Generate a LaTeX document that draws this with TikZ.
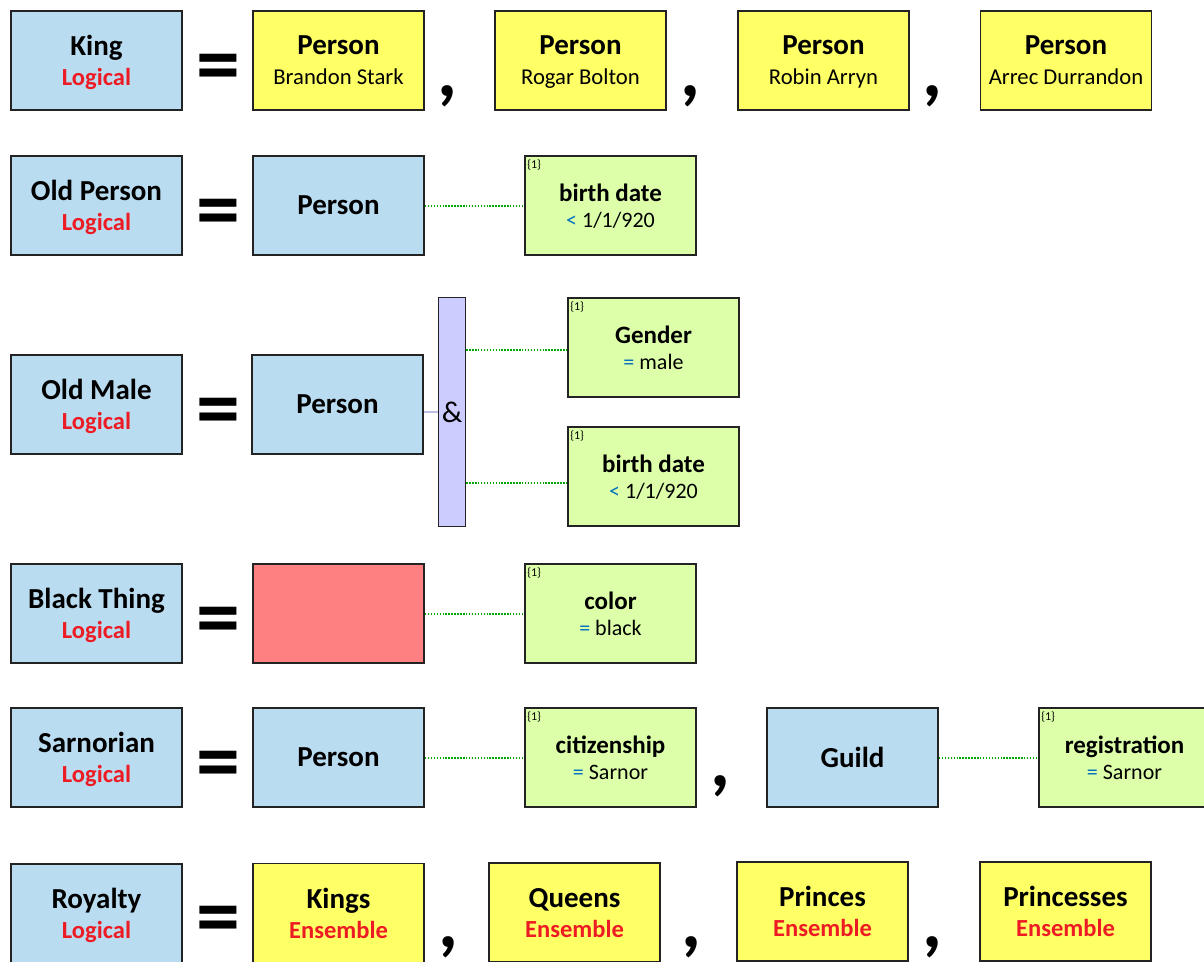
\documentclass[tikz,border=0pt]{standalone}
\usepackage{fontspec}
\setmainfont{Carlito}

\definecolor{azul}{RGB}{186,220,240}
\definecolor{amarillo}{RGB}{255,255,102}
\definecolor{verde}{RGB}{221,255,170}
\definecolor{rosa}{RGB}{255,128,128}
\definecolor{lila}{RGB}{204,204,255}
\definecolor{lilagris}{RGB}{190,190,225}
\definecolor{rojo}{RGB}{237,28,36}
\definecolor{opazul}{RGB}{0,112,192}
\definecolor{punteado}{RGB}{0,165,0}
\definecolor{borde}{RGB}{35,35,35}

\newcommand{\subtxt}[1]{{\fontsize{17}{22.5}\selectfont\mdseries #1}}
\newcommand{\tipotxt}[1]{{\fontsize{18.4}{22.5}\selectfont\color{rojo}#1}}
\newcommand{\valtxt}[2]{{\fontsize{16.5}{19.5}\selectfont\mdseries\textcolor{opazul}{#1} #2}}

\begin{document}
\begin{tikzpicture}[x=0.75pt, y=-0.75pt,
    caja/.style={draw=borde, line width=1.1pt, minimum width=128.5pt, minimum height=74.5pt,
        inner sep=0pt, align=center, text depth=-5pt,
        font=\fontsize{21.75}{22.5}\selectfont\bfseries},
    logico/.style={caja, fill=azul},
    persona/.style={caja, fill=amarillo},
    atrib/.style={caja, fill=verde, text depth=-3pt, font=\fontsize{18.75}{19.5}\selectfont\bfseries},
    num/.style={anchor=north west, inner sep=0pt, font=\fontsize{9}{9}\selectfont},
    igual/.style={inner sep=0pt, font=\fontsize{66}{66}\selectfont\bfseries},
    coma/.style={inner sep=0pt, font=\fontsize{58}{58}\selectfont\bfseries},
    conj/.style={draw=borde, line width=1.1pt, fill=lila, minimum width=20.25pt,
        minimum height=171.75pt, inner sep=0pt, font=\fontsize{22.5}{22.5}\selectfont},
    enlace/.style={draw=punteado, line width=1.3pt, dash pattern=on 1.1pt off 1.1pt}]
    \useasboundingbox (0,0) rectangle (1204,962);
    \clip (0,0) rectangle (1204,962);

    % Fila 1: King
    \node[logico] (king) at (96.5,60.5) {King\\\tipotxt{Logical}};
    \node[igual] (eq1) at (218,73.5) {=};
    \node[persona] (p11) at (338.5,60.5) {Person\\\subtxt{Brandon Stark}};
    \node[coma] (c11) at (447,96) {,};
    \node[persona] (p12) at (580.5,60.5) {Person\\\subtxt{Rogar Bolton}};
    \node[coma] (c12) at (690,96) {,};
    \node[persona] (p13) at (823.5,60.5) {Person\\\subtxt{Robin Arryn}};
    \node[coma] (c13) at (932,96) {,};
    \node[persona] (p14) at (1066,60.5) {Person\\\subtxt{Arrec Durrandon}};

    % Fila 2: Old Person
    \node[logico] (oldp) at (96.5,205.5) {Old Person\\\tipotxt{Logical}};
    \node[igual] (eq2) at (218,218.5) {=};
    \node[logico] (p2) at (338.5,205.5) {Person};
    \node[atrib] (a2) at (610.5,205.5) {birth date\\\valtxt{<}{1/1/920}};
    \node[num] (n2) at ([shift={(3,4)}]a2.north west) {\{1\}};
    \draw[enlace] ([yshift=-0.4pt]p2.east) -- ([yshift=-0.4pt]a2.west);

    % Fila 3: Old Male
    \node[logico] (oldm) at (96.5,404.5) {Old Male\\\tipotxt{Logical}};
    \node[igual] (eq3) at (218,417.5) {=};
    \node[logico] (p3) at (337.5,404.5) {Person};
    \node[conj] (and) at (452,412) {\&};
    \node[atrib] (a31) at (653.5,347.5) {Gender\\\valtxt{=}{male}};
    \node[num] (n31) at ([shift={(3,4)}]a31.north west) {\{1\}};
    \node[atrib] (a32) at (653.5,476.5) {birth date\\\valtxt{<}{1/1/920}};
    \node[num] (n32) at ([shift={(3,4)}]a32.north west) {\{1\}};
    \draw[lilagris, line width=1.1pt] (p3.east |- and.west) -- (and.west);
    \draw[enlace] ([yshift=-2pt]a31.west -| and.east) -- ([yshift=-2pt]a31.west);
    \draw[enlace] ([yshift=-5pt]a32.west -| and.east) -- ([yshift=-5pt]a32.west);

    % Fila 4: Black Thing
    \node[logico] (black) at (96.5,613.5) {Black Thing\\\tipotxt{Logical}};
    \node[igual] (eq4) at (218,626.5) {=};
    \node[caja, fill=rosa] (r4) at (338.5,613.5) {};
    \node[atrib] (a4) at (610.5,613.5) {color\\\valtxt{=}{black}};
    \node[num] (n4) at ([shift={(3,4)}]a4.north west) {\{1\}};
    \draw[enlace] ([yshift=-0.4pt]r4.east) -- ([yshift=-0.4pt]a4.west);

    % Fila 5: Sarnorian
    \node[logico] (sarn) at (96.5,757.5) {Sarnorian\\\tipotxt{Logical}};
    \node[igual] (eq5) at (218,770.5) {=};
    \node[logico] (p5) at (338.5,757.5) {Person};
    \node[atrib] (a51) at (610.5,757.5) {citizenship\\\valtxt{=}{Sarnor}};
    \node[num] (n51) at ([shift={(3,4)}]a51.north west) {\{1\}};
    \node[coma] (c5) at (720,786) {,};
    \node[logico] (guild) at (852.5,757.5) {Guild};
    \node[atrib] (a52) at (1124.5,757.5) {registration\\\valtxt{=}{Sarnor}};
    \node[num] (n52) at ([shift={(3,4)}]a52.north west) {\{1\}};
    \draw[enlace] ([yshift=-0.4pt]p5.east) -- ([yshift=-0.4pt]a51.west);
    \draw[enlace] ([yshift=-0.4pt]guild.east) -- ([yshift=-0.4pt]a52.west);

    % Fila 6: Royalty
    \node[logico] (roy) at (96.5,913.5) {Royalty\\\tipotxt{Logical}};
    \node[igual] (eq6) at (218,926) {=};
    \node[persona] (k6) at (338.5,913) {Kings\\\tipotxt{Ensemble}};
    \node[coma] (c61) at (448,947) {,};
    \node[persona] (q6) at (574.5,912.5) {Queens\\\tipotxt{Ensemble}};
    \node[coma] (c62) at (691,947) {,};
    \node[persona] (pr6) at (822.5,911.5) {Princes\\\tipotxt{Ensemble}};
    \node[coma] (c63) at (932,947) {,};
    \node[persona] (ps6) at (1065.5,911.5) {Princesses\\\tipotxt{Ensemble}};
\end{tikzpicture}
\end{document}
